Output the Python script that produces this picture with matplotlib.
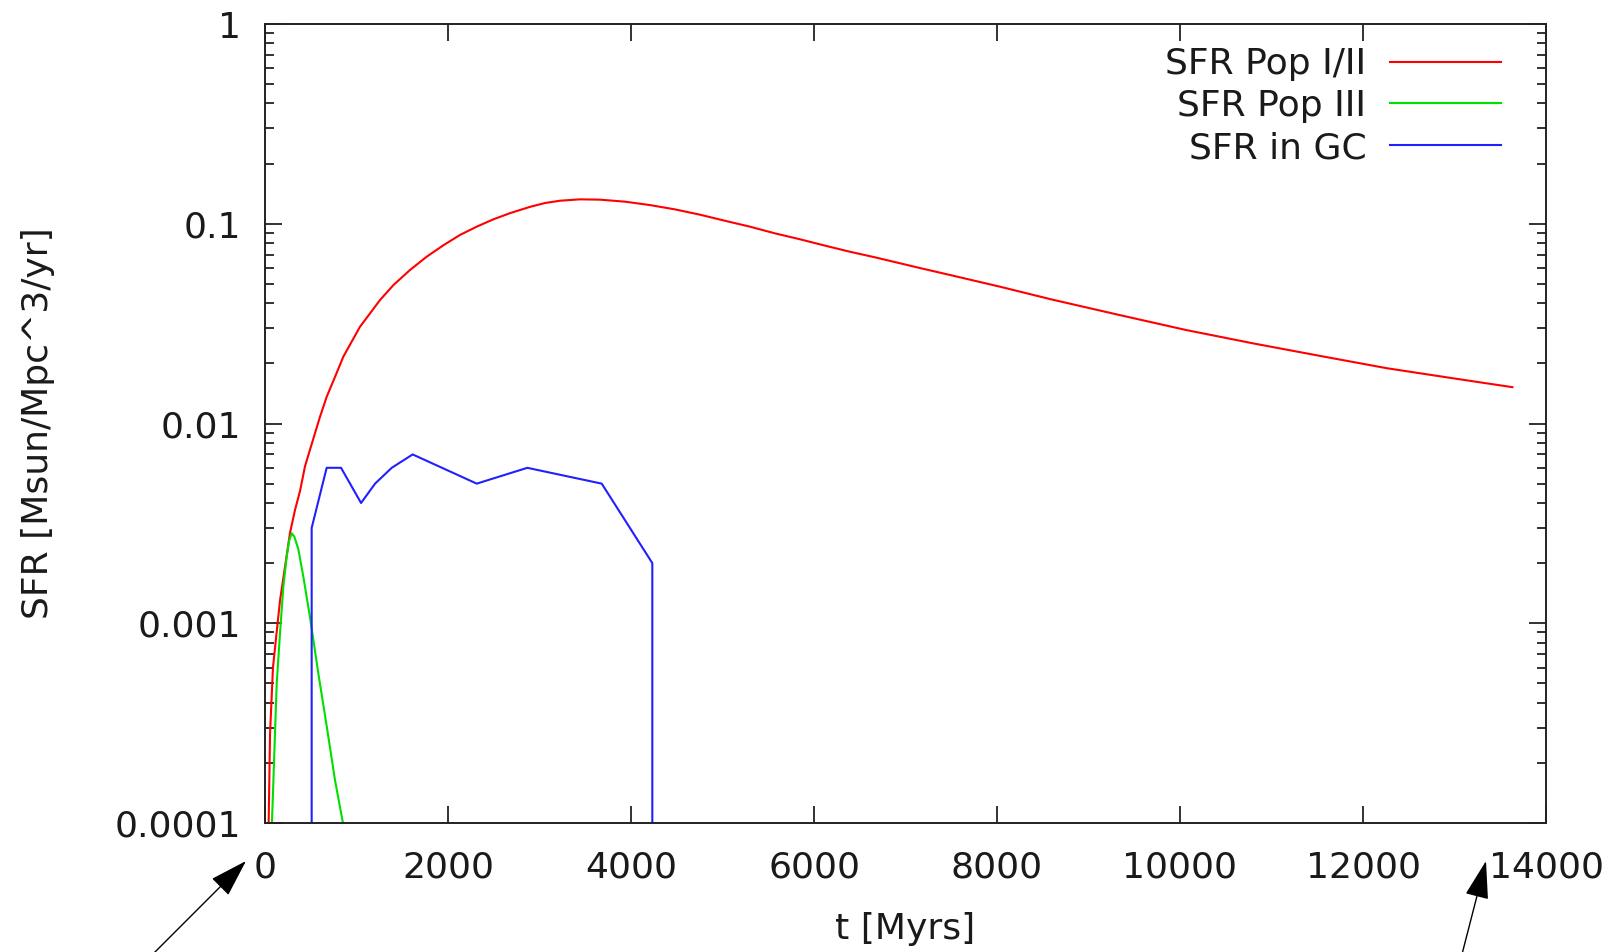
import numpy as np
import matplotlib
matplotlib.use("Agg")
import matplotlib.pyplot as plt
from matplotlib.ticker import FixedLocator, LogLocator, NullFormatter, FuncFormatter

plt.rcParams["font.family"] = "DejaVu Sans"

# SFR Pop I/II (red)
t_pop12 = [30, 40, 55, 87, 164, 219, 273, 328, 383, 437, 492, 601, 674, 765, 856,
           1038, 1257, 1403, 1585, 1767, 1949, 2131, 2314, 2495, 2678, 2896, 3060,
           3224, 3443, 3661, 3934, 4208, 4481, 4754, 5027, 5300, 5574, 5847, 6120,
           6394, 6667, 6940, 7126, 7486, 8033, 8595, 9329, 10063, 10796, 11530,
           12264, 12999, 13633]
sfr_pop12 = [5e-5, 1.0e-4, 2.8e-4, 6.0e-4, 1.3e-3, 1.92e-3, 2.83e-3, 3.69e-3, 4.6e-3,
             6.1e-3, 7.4e-3, 0.0108, 0.0136, 0.0171, 0.0216, 0.0305, 0.0415, 0.0493,
             0.0587, 0.0684, 0.078, 0.0879, 0.0967, 0.1052, 0.113, 0.1215, 0.127,
             0.1304, 0.1325, 0.132, 0.129, 0.124, 0.118, 0.111, 0.1035, 0.0967,
             0.0895, 0.0836, 0.0777, 0.0724, 0.0679, 0.0634, 0.0605, 0.0554, 0.0484,
             0.0418, 0.035, 0.0294, 0.0252, 0.0218, 0.0189, 0.0168, 0.0152]

# SFR Pop III (green)
t_pop3 = [72, 91, 109, 128, 164, 200, 237, 265, 292, 320, 364, 419, 492, 583, 677, 765, 852]
sfr_pop3 = [9e-5, 1.58e-4, 2.8e-4, 5.0e-4, 8.9e-4, 1.52e-3, 2.15e-3, 2.6e-3, 2.82e-3,
            2.72e-3, 2.35e-3, 1.71e-3, 1.07e-3, 5.6e-4, 3.0e-4, 1.64e-4, 1.0e-4]

# SFR in GC (blue)
t_gc = [510, 510, 674, 831, 1050, 1203, 1385, 1614, 2314, 2867, 3680, 4233, 4233]
sfr_gc = [1e-8, 0.003, 0.006, 0.006, 0.004, 0.005, 0.006, 0.007, 0.005, 0.006,
          0.005, 0.002, 1e-8]

x_ticks = [0, 2000, 4000, 6000, 8000, 10000, 12000, 14000]
y_ticks = [1e-4, 1e-3, 1e-2, 1e-1, 1]
y_tick_labels = ["0.0001", "0.001", "0.01", "0.1", "1"]

fs = 26

fig = plt.figure(figsize=(16.21, 9.52), dpi=100)
ax = fig.add_axes([265 / 1621, 1 - 823 / 952, (1546 - 265) / 1621, (823 - 24) / 952])

ax.plot(t_pop12, sfr_pop12, color="#ff0000", lw=1.5, label="SFR Pop I/II")
ax.plot(t_pop3, sfr_pop3, color="#00e000", lw=1.5, label="SFR Pop III")
ax.plot(t_gc, sfr_gc, color="#2020ff", lw=1.5, label="SFR in GC")

ax.set_yscale("log")
ax.set_xlim(0, 14000)
ax.set_ylim(1e-4, 1)

ax.xaxis.set_major_locator(FixedLocator(x_ticks))
ax.xaxis.set_major_formatter(FuncFormatter(lambda v, _: f"{int(v)}"))
ax.yaxis.set_major_locator(FixedLocator(y_ticks))
ax.yaxis.set_major_formatter(FuncFormatter(lambda v, _: y_tick_labels[y_ticks.index(v)] if v in y_ticks else ""))
ax.yaxis.set_minor_locator(LogLocator(base=10, subs=np.arange(2, 10), numticks=20))
ax.yaxis.set_minor_formatter(NullFormatter())

for s in ax.spines.values():
    s.set_linewidth(1.4)
    s.set_color("#222222")

ax.tick_params(axis="both", which="major", direction="in", length=12, width=1.3,
               top=True, right=True, labelsize=fs, color="#222222", labelcolor="#1a1a1a")
ax.tick_params(axis="x", which="major", pad=20)
ax.tick_params(axis="y", which="major", pad=17)
ax.tick_params(axis="y", which="minor", direction="in", length=6.5, width=1.3,
               left=True, right=True, color="#222222")
ax.tick_params(axis="x", which="minor", bottom=False, top=False)

ax.set_xlabel("t [Myrs]", fontsize=fs, color="#1a1a1a")
ax.set_ylabel("SFR [Msun/Mpc^3/yr]", fontsize=fs, color="#1a1a1a")
ax.xaxis.set_label_coords(0.5, -0.112)
ax.yaxis.set_label_coords(-0.164, 0.5)

leg = ax.legend(loc="upper right", bbox_to_anchor=(0.965, 0.971), frameon=False,
                markerfirst=False, fontsize=fs, handlelength=3.09, handletextpad=0.64,
                labelspacing=0.22, borderpad=0, borderaxespad=0)
for txt in leg.get_texts():
    txt.set_color("#1a1a1a")

# arrows below the axis
ax.annotate("", xy=(246 / 1621, 1 - 861 / 952), xycoords="figure fraction",
            xytext=(145 / 1621, 1 - 962 / 952), textcoords="figure fraction",
            arrowprops=dict(arrowstyle="-|>,head_length=2.4,head_width=0.75",
                            mutation_scale=10, lw=1.0, color="black",
                            shrinkA=0, shrinkB=0),
            annotation_clip=False)
ax.annotate("", xy=(1486 / 1621, 1 - 861 / 952), xycoords="figure fraction",
            xytext=(1460 / 1621, 1 - 962 / 952), textcoords="figure fraction",
            arrowprops=dict(arrowstyle="-|>,head_length=2.4,head_width=0.75",
                            mutation_scale=10, lw=1.0, color="black",
                            shrinkA=0, shrinkB=0),
            annotation_clip=False)

plt.savefig("out.png", dpi=100)
